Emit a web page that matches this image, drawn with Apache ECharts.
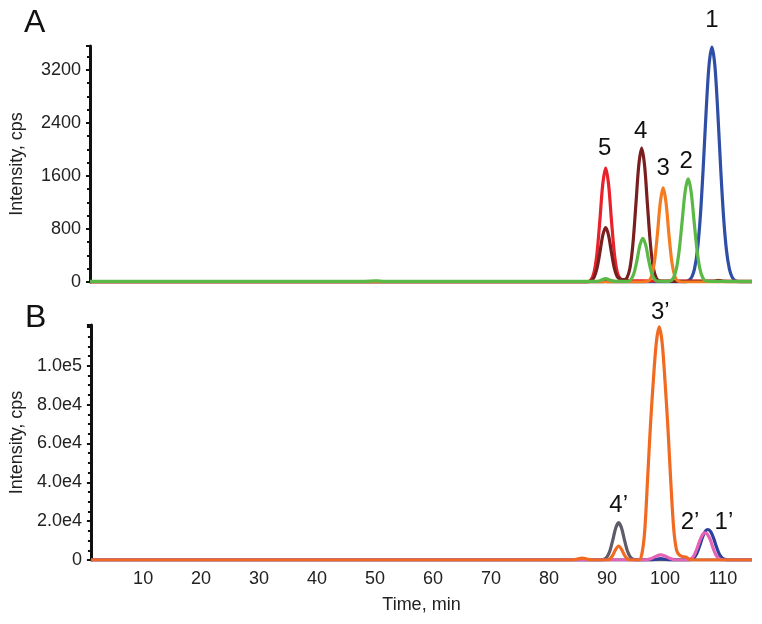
<!DOCTYPE html>
<html>
<head>
<meta charset="utf-8">
<script src="https://cdn.jsdelivr.net/npm/echarts@6/dist/echarts.min.js"></script>
<style>
  html, body { margin: 0; padding: 0; background: #fff; }
  #container { width: 762px; height: 624px; }
</style>
</head>
<body>
<div id="container"></div>
<script>
// tick labels
const timeTicks = [10, 20, 30, 40, 50, 60, 70, 80, 90, 100, 110];
const intensityTicksB = [0, 20000, 40000, 60000, 80000, 100000];

// panel A: [time (min), intensity (cps)]
const redA = [[1,5],[86,5],[86.8,7],[87.3,36],[87.8,146],[88.3,428],[88.8,927],[89.3,1474],[89.8,1720],[90.3,1474],[90.8,927],[91.3,428],[91.8,146],[92.3,50],[92.8,25],[94,20],[98,15],[115,10]];
const darkRedA = [[1,0],[86.3,0],[86.8,3],[87.3,17],[87.8,70],[88.3,204],[88.8,442],[89.3,703],[89.8,820],[90.3,703],[90.8,442],[91.3,204],[91.8,80],[92.3,45],[93,35],[93.5,70],[94,220],[94.5,580],[95,1162],[95.5,1759],[96,2020],[96.5,1759],[97,1162],[97.5,580],[98,220],[98.5,63],[99,20],[100,10],[108.5,10],[109.2,25],[110,10],[115,5]];
const orangeA = [[1,0],[96,0],[97.2,18],[97.7,89],[98.2,300],[98.7,710],[99.2,1194],[99.7,1420],[100.2,1194],[100.7,710],[101.2,300],[101.7,89],[102.2,18],[103,0],[115,0]];
const greenA = [[1,8],[48,8],[49.5,14],[50.5,18],[51.5,10],[88,8],[88.8,20],[89.8,50],[90.8,20],[92,10],[93.7,9],[94.2,42],[94.7,139],[95.2,330],[95.7,555],[96.2,660],[96.7,555],[97.2,330],[97.7,139],[98.2,42],[98.7,12],[100.5,10],[101,17],[101.5,68],[102,210],[102.5,505],[103,943],[103.5,1372],[104,1555],[104.5,1372],[105,943],[105.5,505],[106,210],[106.5,68],[107,17],[108,8],[115,8]];
const blueA = [[1,0],[89.3,0],[89.8,15],[90.3,0],[103.6,0],[104.1,21],[104.6,70],[105.1,199],[105.6,479],[106.1,986],[106.6,1726],[107.1,2574],[107.6,3272],[108.1,3545],[108.6,3272],[109.1,2574],[109.6,1726],[110.1,986],[110.6,479],[111.1,199],[111.6,70],[112.1,21],[113,0],[115,0]];

// panel B
const grayB = [[1,0],[88.5,0],[89,77],[89.5,403],[90,1632],[90.5,4781],[91,10349],[91.5,16454],[92,19200],[92.5,16454],[93,10349],[93.5,4781],[94,1632],[94.5,403],[95,77],[96,0],[115,0]];
const blueB = [[1,0],[97.5,0],[98.5,400],[99.2,700],[100,400],[101,0],[104,0],[104.5,300],[105,1200],[105.5,3500],[106,7500],[106.5,12000],[107,15000],[107.4,15700],[107.9,14500],[108.4,11000],[108.9,6500],[109.4,2800],[109.9,900],[110.5,200],[111,0],[115,0]];
const pinkB = [[1,0],[96.5,0],[97.5,600],[98.5,2000],[99.2,2600],[100,2000],[101,600],[102,0],[104,0],[104.5,600],[105,2300],[105.5,5800],[106,10000],[106.5,13200],[106.9,14000],[107.3,13300],[107.8,10500],[108.3,6000],[108.8,2500],[109.3,700],[110,0],[115,0]];
const orangeB = [[1,0],[84,0],[85,600],[85.7,1000],[86.5,500],[87.5,0],[90,0],[90.5,500],[91,2500],[91.5,5500],[92,7100],[92.5,5500],[93,2500],[93.5,600],[94,0],[95.5,0],[96,3000],[96.5,15000],[97,42000],[97.5,70000],[98,93000],[98.5,112000],[99,120000],[99.5,112000],[100,92000],[100.5,68000],[101,40000],[101.5,16000],[102,5000],[102.5,2500],[103,1800],[103.6,1500],[104.3,200],[105,0],[115,0]];

// peak labels: [time, intensity, text]
const peaksA = [[108.1,3545,'1'],[104,1555,'2'],[99.7,1420,'3'],[96,2020,'4'],[89.8,1720,'5']];
const peaksB = [[99,120000,'3’'],[92,19200,'4’'],[106.9,14000,'2’'],[107.4,15700,'1’']];
const labelShift = { '1':[0,-27], '2':[-2,-18], '3':[0,-19], '4':[-1,-17], '5':[-1,-20],
                     '3’':[1,-15], '4’':[0,-17], '2’':[-15,-10], '1’':[16,-7] };

const FONT = 'Liberation Sans, Arial, sans-serif';

function sciLabel(v) {
  if (v === 0) return '0';
  const e = Math.floor(Math.log10(v));
  return (v / Math.pow(10, e)).toFixed(1) + 'e' + e;
}

function peakMarks(list) {
  return {
    symbol: 'circle',
    symbolSize: 0,
    silent: true,
    data: list.map(p => ({
      coord: [p[0], p[1]],
      label: {
        show: true, position: 'inside', formatter: p[2],
        offset: labelShift[p[2]], color: '#111', fontSize: 24, fontFamily: FONT
      }
    }))
  };
}

function line(name, data, color, axis, marks) {
  const s = {
    name: name, type: 'line', data: data,
    xAxisIndex: axis, yAxisIndex: axis,
    showSymbol: false, smooth: 0.3,
    lineStyle: { color: color, width: 3.2 },
    itemStyle: { color: color },
    z: 2
  };
  if (marks) s.markPoint = marks;
  return s;
}

const tickText = { color: '#222', fontSize: 18, fontFamily: FONT };
const nameText = { color: '#222', fontSize: 18, fontFamily: FONT };

const yAxisBase = {
  type: 'value', min: 0, nameLocation: 'middle', nameGap: 64,
  nameTextStyle: nameText,
  axisLine: { show: true, lineStyle: { color: '#111', width: 3 } },
  axisTick: { show: true, length: 4, lineStyle: { color: '#111', width: 2 } },
  minorTick: { show: true, splitNumber: 4, length: 3, lineStyle: { color: '#111', width: 2 } },
  splitLine: { show: false },
  minorSplitLine: { show: false }
};

const myChart = echarts.init(document.getElementById('container'), null, { renderer: 'canvas' });
const option = {
  animation: false,
  backgroundColor: '#fff',
  grid: [
    { left: 90, right: 10, top: 46, bottom: 342 },
    { left: 90, right: 10, top: 325, bottom: 64 }
  ],
  graphic: [
    { type: 'text', left: 24, top: 7, style: { text: 'A', fontSize: 32, fontFamily: FONT, fill: '#111' } },
    { type: 'text', left: 25, top: 302, style: { text: 'B', fontSize: 32, fontFamily: FONT, fill: '#111' } }
  ],
  xAxis: [
    { type: 'value', gridIndex: 0, min: 1, max: 115,
      axisLine: { show: false }, axisTick: { show: false }, axisLabel: { show: false }, splitLine: { show: false } },
    { type: 'value', gridIndex: 1, min: 1, max: 115,
      name: 'Time, min', nameLocation: 'middle', nameGap: 36,
      nameTextStyle: nameText,
      axisLine: { show: false }, axisTick: { show: false },
      axisLabel: Object.assign({ customValues: timeTicks, margin: 10 }, tickText),
      splitLine: { show: false } }
  ],
  yAxis: [
    Object.assign({}, yAxisBase, { gridIndex: 0, max: 3560, interval: 800, name: 'Intensity, cps',
      axisLabel: Object.assign({ margin: 9, showMaxLabel: false, formatter: v => String(v) }, tickText) }),
    Object.assign({}, yAxisBase, { gridIndex: 1, max: 121000, interval: 20000, name: 'Intensity, cps',
      axisLabel: Object.assign({ margin: 9, customValues: intensityTicksB, formatter: sciLabel }, tickText) })
  ],
  series: [
    line('blueA', blueA, '#2f4fa6', 0, peakMarks(peaksA)),
    line('redA', redA, '#e8212b', 0),
    line('darkRedA', darkRedA, '#7a1f1f', 0),
    line('orangeA', orangeA, '#f47b20', 0),
    line('greenA', greenA, '#5ab946', 0),
    line('grayB', grayB, '#5f5b6b', 1),
    line('blueB', blueB, '#2b3f9c', 1),
    line('pinkB', pinkB, '#e463b4', 1),
    line('orangeB', orangeB, '#f26a21', 1, peakMarks(peaksB))
  ]
};

if (option && typeof option === 'object') {
  myChart.setOption(option);
}
window.addEventListener('resize', () => myChart.resize());
</script>
</body>
</html>
